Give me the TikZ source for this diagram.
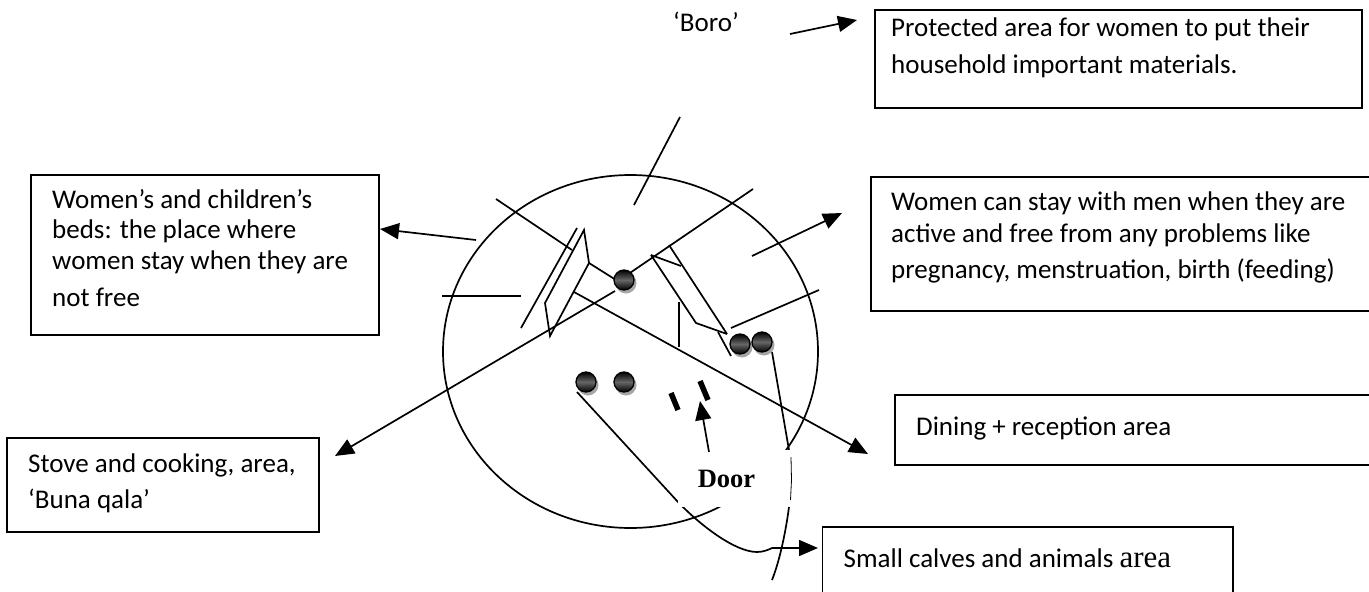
\documentclass[tikz,border=0pt]{standalone}
\usepackage{fontspec}
\setmainfont{Carlito}
\newfontfamily\doorfont{Liberation Serif}
\usetikzlibrary{arrows.meta,calc}
\tikzset{
  every picture/.style={x=1pt,y=-1pt},
  boxed/.style={draw=black,line width=1.9pt,fill=white,rectangle,inner sep=0pt},
  txt/.style={anchor=north west,inner sep=0pt,align=left,font=\fontsize{27}{32}\selectfont},
  ln/.style={line width=1.7pt,black},
  arr/.style={ln,-{Triangle[length=19pt,width=16pt]}},
  pole/.style={circle,draw=black,line width=1.3pt,minimum size=20pt,inner sep=0pt,
    top color=black,bottom color=black,middle color=gray!80!black,shading angle=0},
  shade/.style={circle,fill=gray!70,minimum size=21pt,inner sep=0pt},
  doormark/.style={line width=5.5pt,black}
}
\newcommand{\polenode}[2]{%
  \node[shade] at ($(#2)+(2,3)$) {};
  \node[pole] (#1) at (#2) {};}
\begin{document}
\begin{tikzpicture}
\useasboundingbox (0,0) rectangle (1369,592);
\clip (0,0) rectangle (1369,592);
% boxes
\draw[boxed] (875,10) rectangle (1362,108);
\draw[boxed] (871,177) rectangle (1380,311);
\draw[boxed] (31,175) rectangle (379,335);
\draw[boxed] (895,395) rectangle (1380,465);
\draw[boxed] (7,438) rectangle (319,532);
\draw[boxed] (822.5,527) rectangle (1233,610);
\node[txt] (t1) at (891,18) {Protected area for women to put their\\[5pt]household important materials.};
\node[txt] (t2) at (891,192) {Women can stay with men when they are\\active and free from any problems like\\[4pt]pregnancy, menstruation, birth (feeding)};
\node[txt] (t3) at (52,189) {Women’s and children’s\\[-2pt]beds: the place where\\[-1pt]women stay when they are\\[5pt]not free};
\node[txt] (t4) at (916,417) {Dining + reception area};
\node[txt] (t5) at (28,454) {Stove and cooking, area,\\[4pt]‘Buna qala’};
\node[txt] (t6) at (843.5,549) {Small calves and animals {\doorfont\fontsize{31}{32}\selectfont area}};
\node[txt] (boro) at (673,12) {‘Boro’};
% coordinates
\coordinate (b1) at (790,34); \coordinate (b2) at (857,20);
\coordinate (l1) at (476,240); \coordinate (l2) at (380,229);
\coordinate (r1) at (752,256); \coordinate (r2) at (842,213);
\coordinate (s1) at (615,291); \coordinate (s2) at (335,456);
\coordinate (d1) at (574,292); \coordinate (d2) at (868,454);
% house
\draw[ln] (630.5,351.5) ellipse (187.5 and 176.5);
\draw[ln] (634,205) -- (680,117);
\draw[ln] (496,199) -- (572,250);
\draw[ln] (589,263) -- (624,285);
\draw[ln] (624,277) -- (753,189);
\draw[ln] (442,296) -- (521,296);
\draw[ln] (577,228) -- (521,328);
\draw[ln,line join=miter] (584,230) -- (545,303) -- (550,336) -- (589,263) -- cycle;
\draw[ln] (669,245) -- (727,334);
\draw[ln] (651,255) -- (696,323) -- (727,334);
\draw[ln] (651,255) -- (681,266);
\draw[ln] (718,332) -- (731,356);
\draw[ln] (679,302) -- (679,347);
\draw[ln] (731,328) -- (819,290);
\draw[arr] (b1) -- (b2);
\draw[arr] (l1) -- (l2);
\draw[arr] (r1) -- (r2);
\draw[arr] (s1) -- (s2);
\draw[arr] (d1) -- (d2);
\coordinate (c1) at (772,352);
\coordinate (c2) at (789,450);
\draw[ln] (c1) -- (c2);
\coordinate (w1) at (577,392);
\coordinate (w2) at (772,548);
\coordinate (w3) at (818,548);
\draw[ln] (w1) -- (678,502) .. controls (700,525) and (735,552) .. (757,552) .. controls (763,552) and (768,550) .. (w2);
\draw[arr] (w2) -- (w3);
% door block
\node[fill=white,minimum width=111pt,minimum height=57pt,inner sep=0pt] (door) at (733.5,478.5) {\doorfont\bfseries\fontsize{26.5}{30}\selectfont\raisebox{-1pt}{\hspace*{-14pt}Door}};
\draw[ln,line width=0.8pt] (791,457) -- (791.5,480) -- (790.5,500);
\draw[ln] (789,507) .. controls (786,530) and (780,560) .. (772,580);
\draw[arr] (709,452) -- (700,401);
\draw[doormark] (671,393) -- (678,410);
\draw[doormark] (700,381) -- (708,400);
% poles
\polenode{p1}{624,280}
\polenode{p2}{740,344}
\polenode{p3}{762,342}
\polenode{p4}{586,382}
\polenode{p5}{624,382}
\end{tikzpicture}
\end{document}
